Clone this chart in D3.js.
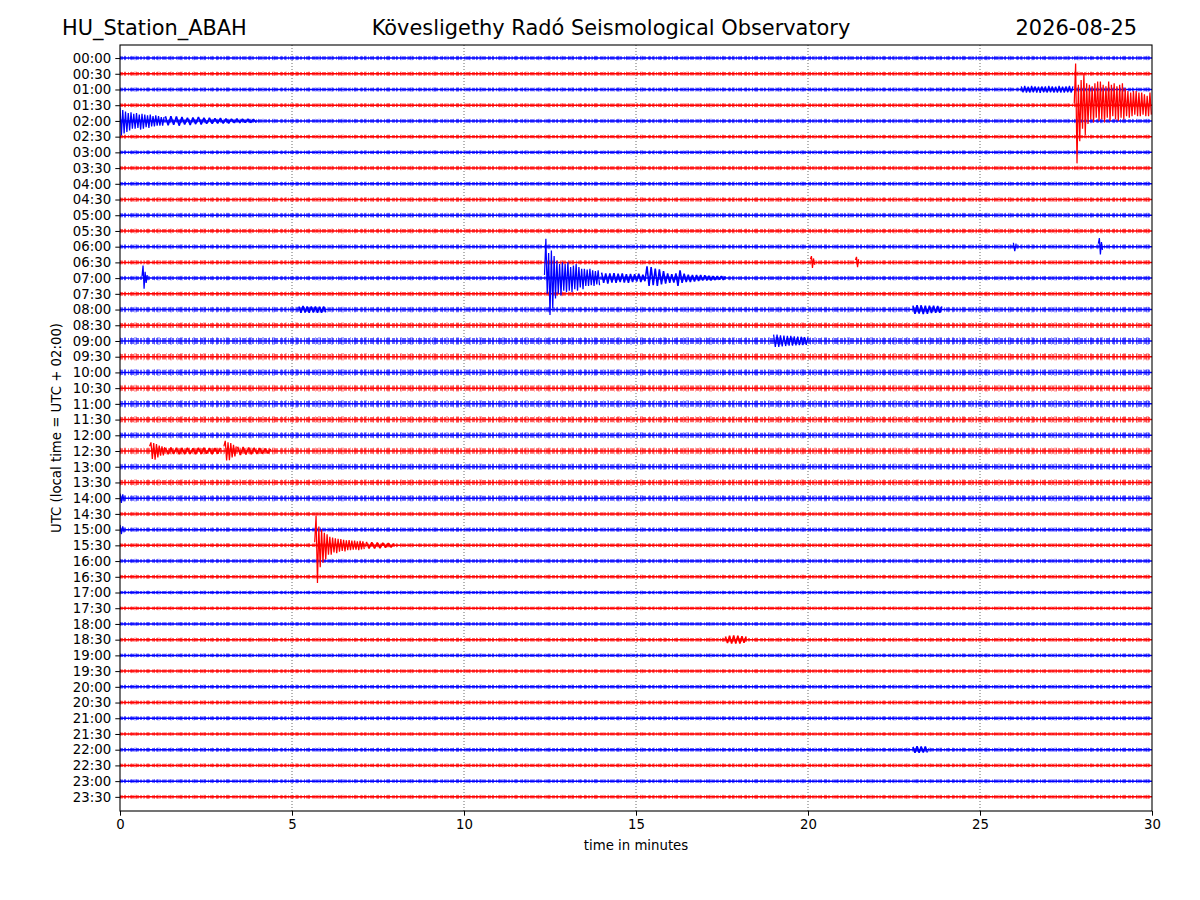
<!DOCTYPE html>
<html>
<head>
<meta charset="utf-8">
<script src="https://cdn.jsdelivr.net/npm/d3@7"></script>
<style>
  body { margin: 0; background: #fff; }
  svg { font-family: "DejaVu Sans", sans-serif; }
</style>
</head>
<body>
<svg id="chart" width="1200" height="900"></svg>
<script>
// row labels (UTC), one trace per half hour
var traceLabels = ["00:00","00:30","01:00","01:30","02:00","02:30","03:00","03:30",
  "04:00","04:30","05:00","05:30","06:00","06:30","07:00","07:30",
  "08:00","08:30","09:00","09:30","10:00","10:30","11:00","11:30",
  "12:00","12:30","13:00","13:30","14:00","14:30","15:00","15:30",
  "16:00","16:30","17:00","17:30","18:00","18:30","19:00","19:30",
  "20:00","20:30","21:00","21:30","22:00","22:30","23:00","23:30"];

// background noise half-amplitude per trace (in trace spacings)
var noiseLevel = [0.11,0.11,0.11,0.11,0.11,0.11,0.11,0.11,
  0.11,0.12,0.12,0.12,0.12,0.12,0.12,0.12,
  0.14,0.15,0.19,0.18,0.17,0.17,0.19,0.17,
  0.16,0.17,0.16,0.16,0.16,0.11,0.12,0.11,
  0.11,0.11,0.10,0.10,0.10,0.11,0.10,0.10,
  0.11,0.11,0.11,0.10,0.11,0.10,0.10,0.10];

var xTicks = [0, 5, 10, 15, 20, 25, 30];
var gridMinutes = [5, 10, 15, 20, 25];

// waveforms: displacement per sample, positive = up
var quakeA_0130 = [0.1,2.65,-3.7,1.3,-2.3,1.6,-1.5,2.0,-1.9,1.4,-1.2,1.3,-0.9,1.2,-1.1,1.4,
  -0.8,1.5,-1.0,1.5,-0.9,1.3,-1.1,1.2,-0.8,1.5,-1.0,1.3,-0.7,1.4,-0.9,1.2,-1.0,1.3,-0.8,1.4,
  -0.9,1.1,-0.7,0.9,-0.8,0.8,-0.7,0.9,-0.6,0.9,-0.7,0.8,-0.7,0.8,-0.6,0.7,-0.7,0.6,-0.7,0.8,-0.6];
var quakeA_0100 = [0.2,-0.18,0.22,-0.2,0.18,-0.2,0.22,-0.18,0.2,-0.2,0.18,-0.22,0.2,-0.18,0.2,
  -0.2,0.22,-0.18,0.2,-0.2,0.18,-0.2,0.22,-0.2,0.18,-0.2,0.2,-0.18,0.22,-0.2,0.2];
var quakeA_0200a = [0.85,-0.92,0.7,-0.8,0.6,-0.7,0.5,-0.6,0.55,-0.5,0.45,-0.5,0.5,-0.45,0.4,
  -0.55,0.45,-0.5,0.4,-0.4,0.35,-0.45,0.4,-0.35,0.3,-0.35,0.35,-0.3,0.3,-0.3,0.25,-0.3,0.25];
var quakeA_0200b = [0.3,-0.28,0.3,-0.25,0.28,-0.3,0.25,-0.22,0.2,-0.25,0.22,-0.2,0.25,-0.22,
  0.2,-0.18,0.2,-0.18,0.16,-0.15,0.18,-0.15,0.14,-0.15,0.13,-0.12,0.14,-0.12,0.12,-0.1,0.12,
  -0.1,0.1,-0.1];
var quakeB_main = [0.2,2.5,-1.0,1.6,-2.35,1.75,-1.9,1.4,-1.3,1.1,-1.0,0.9,-1.1,1.0,-0.8,0.9,
  -0.9,1.0,-0.8,0.7,-0.9,0.8,-0.7,0.9,-0.8,0.7,-0.6,0.6,-0.7,0.6,-0.5,0.55,-0.5,0.6,-0.45,
  0.5,-0.5,0.45,-0.4,0.5,-0.45];
var quakeB_coda = [0.35,-0.3,0.3,-0.35,0.3,-0.28,0.32,-0.3,0.28,-0.25,0.3,-0.28,0.25,-0.3,
  0.27,-0.25,0.25,-0.22,0.28,-0.25,0.22,-0.2,
  0.75,-0.5,0.7,-0.45,0.6,-0.5,0.55,-0.4,0.45,-0.35,
  0.3,-0.3,0.25,-0.28,0.3,-0.5,0.5,-0.3,0.28,-0.25,0.22,-0.25,0.2,-0.22,0.2,
  -0.18,0.2,-0.15,0.18,-0.15,0.15,-0.14,0.12,-0.12,0.13,-0.1,0.12,-0.1,0.1];
var spike_0700 = [0.1,0.8,-0.67,0.4,-0.3,0.2];
var quakeC_first = [0.3,0.55,-0.5,0.5,-0.55,0.45,-0.4,0.35,-0.3,0.3,-0.28,0.25];
var quakeC_hold = [0.2,-0.2,0.22,-0.18,0.2,-0.2,0.18,-0.2,0.2,-0.18,0.17,-0.2,0.2,-0.18,0.2,
  -0.17,0.18,-0.2,0.18,-0.17,0.2];
var quakeC_second = [0.3,0.65,-0.6,0.55,-0.58,0.5,-0.4,0.4,-0.35,0.3];
var quakeC_tail = [0.28,-0.25,0.25,-0.22,0.22,-0.2,0.2,-0.18,0.18,-0.16,0.15,-0.15,0.13];
var quakeD_main = [0.2,1.9,-2.4,1.2,-1.4,1.0,-1.1,0.8,-0.9,0.7,-0.6,0.55,-0.6,0.5,-0.45,0.45,
  -0.5,0.42,-0.4,0.4,-0.35,0.35,-0.38,0.32,-0.3,0.33,-0.3,0.3,-0.28,0.3,-0.28,0.26,-0.3,0.28,
  -0.25,0.25,-0.24];
var quakeD_tail = [0.22,-0.2,0.2,-0.2,0.18,-0.18,0.16,-0.15,0.14,-0.13,0.12];
var blip_0630a = [0.2,0.4,-0.35,0.25,-0.15];
var blip_0630b = [0.15,0.35,-0.3,0.2];
var blip_0600a = [0.25,-0.28,0.2];
var blip_0600b = [0.2,0.55,-0.5,0.3,-0.2];
var burst_0800a = [0.2,-0.2,0.22,-0.18,0.2,-0.2,0.2,-0.18,0.2,-0.2,0.18,-0.2,0.2,-0.18];
var burst_0800b = [0.25,-0.27,0.28,-0.25,0.27,-0.28,0.25,-0.27,0.25,-0.22,0.24,-0.2,0.22,-0.2,0.2];
var burst_0900 = [0.4,-0.38,0.4,-0.38,0.36,-0.35,0.35,-0.32,0.33,-0.3,0.32,-0.3,0.3,-0.28,0.28,
  -0.27,0.27,-0.26,0.25,-0.25,0.24];
var edge_1400 = [0.3,-0.3,0.25,-0.2];
var edge_1500 = [0.3,-0.28,0.2,-0.18];
var burst_1830 = [0.2,-0.22,0.25,-0.25,0.26,-0.24,0.25,-0.25,0.22,-0.2,0.2];
var burst_2200 = [0.18,-0.2,0.22,-0.2,0.2,-0.18,0.2,-0.18];

// [trace index, first minute, minutes per sample, samples]
var waveSegments = [
  [3, 27.74, 0.04, quakeA_0130],
  [2, 26.2, 0.05, quakeA_0100],
  [4, 0.0, 0.04, quakeA_0200a],
  [4, 1.32, 0.08, quakeA_0200b],
  [14, 12.34, 0.04, quakeB_main],
  [14, 14.0, 0.06, quakeB_coda],
  [14, 0.64, 0.03, spike_0700],
  [25, 0.86, 0.04, quakeC_first],
  [25, 1.32, 0.08, quakeC_hold],
  [25, 3.02, 0.04, quakeC_second],
  [25, 3.42, 0.08, quakeC_tail],
  [31, 5.66, 0.04, quakeD_main],
  [31, 7.16, 0.08, quakeD_tail],
  [13, 20.07, 0.03, blip_0630a],
  [13, 21.38, 0.03, blip_0630b],
  [12, 25.97, 0.04, blip_0600a],
  [12, 28.44, 0.03, blip_0600b],
  [16, 5.2, 0.06, burst_0800a],
  [16, 23.05, 0.06, burst_0800b],
  [18, 19.0, 0.05, burst_0900],
  [28, 0.0, 0.04, edge_1400],
  [30, 0.0, 0.04, edge_1500],
  [37, 17.6, 0.06, burst_1830],
  [44, 23.05, 0.06, burst_2200]
];

var svg = d3.select("#chart");
var margin = {left: 120, top: 45, right: 48, bottom: 89};
var width = 1200 - margin.left - margin.right;
var height = 900 - margin.top - margin.bottom;

var x = d3.scaleLinear().domain([0, 30]).range([margin.left, margin.left + width]);
var y = d3.scaleLinear().domain([-0.83, 47.9]).range([margin.top, margin.top + height]);
var unitPx = y(1) - y(0);

function traceColor(i) { return i % 2 === 0 ? "#0000ff" : "#ff0000"; }

var plot = svg.append("g");
plot.append("defs").append("clipPath").attr("id", "clip")
  .append("rect").attr("x", x(0)).attr("y", y.range()[0])
  .attr("width", width).attr("height", height);

// dotted grid
plot.selectAll("line.grid").data(gridMinutes).enter().append("line")
  .attr("class", "grid")
  .attr("x1", d => x(d)).attr("x2", d => x(d))
  .attr("y1", y.range()[0]).attr("y2", y.range()[1])
  .attr("stroke", "#444").attr("stroke-width", 0.8)
  .attr("stroke-dasharray", "1,2");

var traces = plot.append("g").attr("clip-path", "url(#clip)");

// noise bands + core line for every trace
traceLabels.forEach(function(lbl, i) {
  var c = traceColor(i);
  traces.append("line")
    .attr("x1", x(0)).attr("x2", x(30))
    .attr("y1", y(i)).attr("y2", y(i))
    .attr("stroke", c).attr("stroke-opacity", 0.3)
    .attr("stroke-width", 2.6 * noiseLevel[i] * unitPx)
    .attr("stroke-dasharray", "1,3,2,5,1,2,3,6");
  traces.append("line")
    .attr("x1", x(0)).attr("x2", x(30))
    .attr("y1", y(i)).attr("y2", y(i))
    .attr("stroke", c).attr("stroke-opacity", 0.6)
    .attr("stroke-width", 2 * noiseLevel[i] * unitPx)
    .attr("stroke-dasharray", "3,1,2,2,1,1,4,2");
  traces.append("line")
    .attr("x1", x(0)).attr("x2", x(30))
    .attr("y1", y(i)).attr("y2", y(i))
    .attr("stroke", c)
    .attr("stroke-width", 1.5);
});

// recorded waveforms
var line = d3.line().x(d => x(d[0])).y(d => y(d[1]));
waveSegments.forEach(function(seg) {
  var tr = seg[0], t0 = seg[1], dt = seg[2], vals = seg[3];
  var pts = vals.map((v, k) => [t0 + k * dt, tr - v]);
  traces.append("path")
    .attr("d", line(pts))
    .attr("fill", "none")
    .attr("stroke", traceColor(tr))
    .attr("stroke-width", dt > 0.05 ? 1.6 : 1.25)
    .attr("stroke-linejoin", "bevel");
});

// axes
var yAxis = d3.axisLeft(y)
  .tickValues(d3.range(traceLabels.length))
  .tickFormat(i => traceLabels[i])
  .tickSize(4.7).tickPadding(4.2);
var gy = svg.append("g").attr("transform", "translate(" + x(0) + ",0)").call(yAxis);

var xAxis = d3.axisBottom(x).tickValues(xTicks).tickFormat(d3.format("d"))
  .tickSize(4.7).tickPadding(4.2);
var gx = svg.append("g").attr("transform", "translate(0," + y.range()[1] + ")").call(xAxis);

[gx, gy].forEach(function(g) {
  g.select(".domain").remove();
  g.selectAll("text").attr("font-size", "13.3px").attr("fill", "#000")
    .attr("font-family", "DejaVu Sans, sans-serif");
  g.selectAll("line").attr("stroke", "#000").attr("stroke-width", 1);
});

svg.append("rect")
  .attr("x", x(0)).attr("y", y.range()[0])
  .attr("width", width).attr("height", height)
  .attr("fill", "none").attr("stroke", "#000").attr("stroke-width", 1.1);

// labels and titles
svg.append("text")
  .attr("x", x(15)).attr("y", 850)
  .attr("text-anchor", "middle").attr("font-size", "13.3px")
  .text("time in minutes");

svg.append("text")
  .attr("transform", "translate(61," + ((y.range()[0] + y.range()[1]) / 2) + ") rotate(-90)")
  .attr("text-anchor", "middle").attr("font-size", "13.3px")
  .text("UTC (local time = UTC + 02:00)");

svg.append("text").attr("x", 62).attr("y", 35)
  .attr("font-size", "20.9px").text("HU_Station_ABAH");
svg.append("text").attr("x", 611).attr("y", 35)
  .attr("text-anchor", "middle").attr("font-size", "20.9px")
  .text("Kövesligethy Radó Seismological Observatory");
svg.append("text").attr("x", 1137).attr("y", 35)
  .attr("text-anchor", "end").attr("font-size", "20.9px")
  .text("2026-08-25");
</script>
</body>
</html>
